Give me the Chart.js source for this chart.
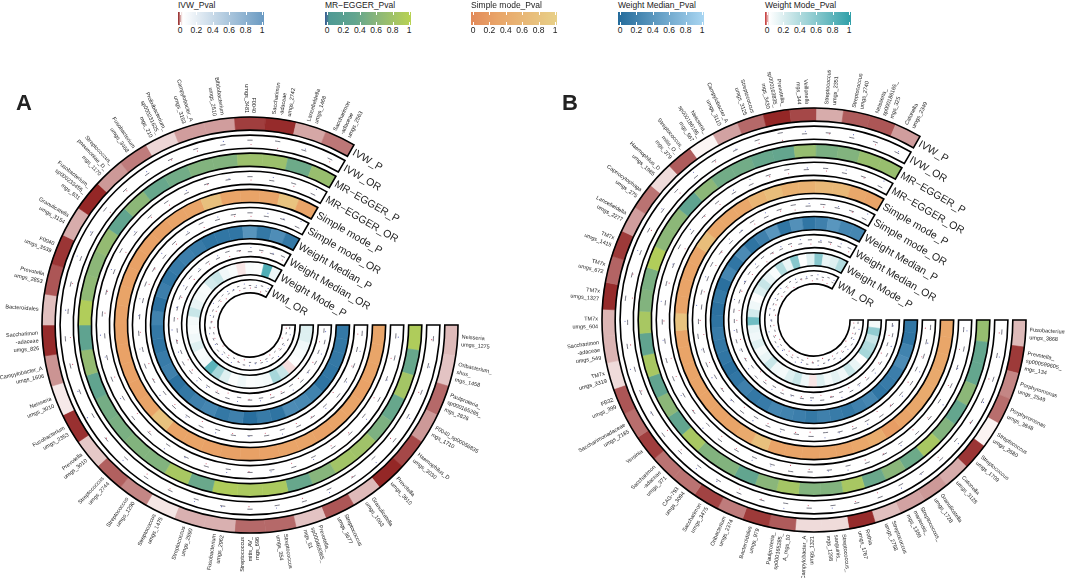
<!DOCTYPE html>
<html><head><meta charset="utf-8">
<style>
html,body{margin:0;padding:0;background:#fff;width:1065px;height:578px;overflow:hidden;font-family:"Liberation Sans",Arial,sans-serif;color:#222}
canvas{position:absolute}
.t{position:absolute;white-space:nowrap;line-height:1}
.bar{position:absolute;top:12px;height:13px;width:86px}
.tk{position:absolute;width:1px;height:3px;background:#fff}
</style>
<script src="https://cdn.jsdelivr.net/npm/chart.js@4"></script>
</head><body>
<canvas id="a" width="540" height="540" style="left:-20px;top:55px"></canvas>
<canvas id="b" width="540" height="540" style="left:544px;top:50px"></canvas>
<div class="t" style="left:16px;top:90px;font:bold 22px 'Liberation Sans'">A</div>
<div class="t" style="left:562px;top:90px;font:bold 22px 'Liberation Sans'">B</div>
<script>
const trackNames=['IVW_P','IVW_OR','MR\u2212EGGER_P','MR\u2212EGGER_OR','Simple mode_P','Simple mode_OR','Weight Median_P','Weight Median_OR','Weight Mode_P','WM_OR'];
const legendTitles=['IVW_Pval','MR\u2212EGGER_Pval','Simple mode_Pval','Weight Median_Pval','Weight Mode_Pval'];
const legendTicks=['0','0.2','0.4','0.6','0.8','1'];

const catsA=['Neisseria|umgs_1275','Oribacterium_|shus_|mgs_1458','Paulproteria_|sp000165285_|mgs_2826','F0040_sp00056835|mgs_1710','Haemophilus_D|umgs_3030','Prevotella|umgs_3610','Granulicatella|umgs_1063','Streptococcus|umgs_3677','Prevotella_|sp000469365_|mgs_51','Streptococcus|umgs_354','Streptococcus|mitis_AV_|mgs_696','Fusobacterium|umgs_2962','Streptococcus|umgs_2990','Streptococcus|umgs_1475','Streptococcus|umgs_1290','Streptococcus|umgs_2744','Prevotella|umgs_3010','Fusobacterium|umgs_2353','Neisseria|umgs_3010','Campylobacter_A|umgs_1606','Saccharimon|-adaceae|umgs_826','Bacteroidales','Prevotella|umgs_2853','F0040|umgs_3539','Granulicatella|umgs_3154','Fusobacterium_|sp000233455_|mgs_831','Streptococcus_|pneumoniae_D_|mgs_1170','Fusobacterium|umgs_3468','Prolixibacterium_|sp000231625_|mgs_210','Campylobacter_A|umgs_3153','Bifidobacterium|umgs_2510','F0040|umgs_3481','Saccharimon|-adaceae|umgs_2742','Lancefieldella|umgs_1468','Saccharimon|-adaceae|umgs_2563'];
const ivwPA=[.033,.035,.016,.026,.009,.002,.033,.012,.035,.016,.016,.031,.031,.042,.022,.014,.036,.004,.043,.025,.003,.034,.012,.005,.03,.002,.026,.02,.039,.027,.027,.007,.003,.029,.019];
const mrPA=[.92,.38,.82,.38,.52,.78,.8,.58,.38,.88,.88,.92,.4,.85,.55,.55,.5,.47,.33,.68,.3,.93,.65,.62,.68,.33,.62,.38,.45,.55,.55,.75,.75,.42,.72];
const simplePA=[.32,.32,.3,.28,.3,.3,.28,.3,.3,.28,.26,.26,.28,.3,.3,.78,.3,.26,.28,.28,.26,.28,.3,.28,.26,.28,.26,.3,.32,.75,.3,.3,.32,.8,.3];
const medianPA=[.12,.12,.12,.1,.08,.22,.28,.3,.08,.15,.03,.2,.12,.25,.2,.12,.06,.2,.15,.08,.12,.22,.06,.18,.1,.14,.18,.15,.08,.1,.1,.38,.12,.32,.12];
const modePA=[.2,.2,.12,.08,.06,.042,.3,.45,.1,.08,.07,.12,.07,.2,.45,.8,.1,.08,.2,.12,.08,.1,.3,.15,.1,.08,.25,.3,.12,.08,.044,.08,.07,.85,.14];
const orIvwA=[1.02,.98,1.03,.97,1.05,.94,1.01,.96,1.04,.97,1.03,.99,.97,1.02,1.04,.96,1.01,.93,.98,1.03,1.06,.97,1.02,.95,.98,1.07,1.02,.97,1.01,1.03,.96,1.05,1.08,.98,1.03];
const orMrA=[.97,1.04,.99,1.06,.95,1.02,1.03,.97,1.05,.98,1.01,.96,1.03,.99,.94,1.02,1.07,.97,1.04,.98,.95,1.03,1.01,.96,1.06,.98,1.02,1.05,.97,1.01,.99,1.04,.96,1.03,.93];
const orSimpleA=[1.05,.96,1.02,.98,1.07,.97,1.01,1.04,.95,1.03,.99,1.02,.96,1.06,.98,1.03,.94,1.01,1.05,.97,1.02,.99,.96,1.04,1.01,.95,1.03,.98,1.06,.97,1.02,1.04,.96,.99,.92];
const orMedianA=[.98,1.06,.96,1.03,.99,1.05,.94,1.02,1.04,.97,1.01,.95,1.06,1.02,.98,.96,1.03,1.07,.97,1.01,.94,1.04,.99,1.02,.96,1.05,.98,1.03,.97,1.06,1.01,.95,1.02,.99,1.04];
const orModeA=[1.04,.95,1.07,.98,1.02,.93,1.05,.97,1.03,.99,.96,1.06,1.01,.94,1.03,.97,1.08,.98,1.02,.95,1.05,1.01,.96,1.04,.93,1.02,1.06,.97,.99,1.05,.95,1.03,.98,1.07,.96];

const catsB=['Fusobacterium|umgs_3868','Prevotella_|sp000599605_|mgs_134','Porphyromonas|umgs_2549','Porphyromonas|umgs_3848','Streptococcus|umgs_2680','Streptococcus|umgs_1709','Catonella|umgs_3128','Granulicatella|umgs_1728','Streptococcus_|mariensis_|mgs_1369','Streptococcus|umgs_2758','Rothia|umgs_1767','Streptococcus_|sanguinis_|mgs_1298','Campylobacter_A|umgs_1321','Paulproteria_|sp000165285_|A_mgs_10','Bacteroidales|umgs_979','Oribacterium|umgs_2374','Saccharimon|umgs_3475','CAG-793|umgs_3094','Saccharimon|-adaceae|umgs_371','Yersinia','Saccharimonadaceae|umgs_2185','FB32|umgs_399','TM7x|umgs_3319','Saccharimon|-adaceae|umgs_549','TM7x|umgs_604','TM7x|umgs_1327','TM7x|umgs_672','TM7x|umgs_1415','Lancefieldella|umgs_2277','Capnocytophaga|umgs_275','Haemophilus_D|umgs_1985','Streptococcus_|mitis_O_|mgs_379','Neisseria_|sp000186165_|mgs_567','Campylobacter_A|umgs_3110','Streptococcus|umgs_3125','Prevotella_|sp000163835_|mgs_3430','Veillonella|mgs_344','Streptococcus|umgs_2351','Streptococcus|umgs_2740','Neisseria_|sp000186165_|mgs_325','Catonella|umgs_2349'];
const ivwPB=[.033,.006,.022,.017,.045,.005,.03,.026,.028,.034,.003,.04,.04,.013,.006,.02,.008,.018,.018,.007,.017,.012,.04,.032,.032,.003,.015,.006,.027,.018,.04,.013,.047,.028,.016,.002,.009,.03,.013,.012,.027];
const mrPB=[.7,.36,.36,.62,.36,.55,.85,.42,.6,.4,.85,.55,.55,.82,.6,.35,.55,.55,.85,.35,.62,.33,.85,.33,.85,.55,.5,.93,.62,.62,.3,.62,.45,.45,.38,.36,.7,.5,.55,.72,.72];
const simplePB=[.35,.33,.35,.38,.4,.35,.3,.22,.42,.35,.3,.3,.3,.3,.3,.75,.4,.3,.3,.3,.3,.3,.3,.3,.8,.3,.3,.3,.32,.7,.35,.35,.35,.55,.7,.5,.5,.62,.62,.35,.3];
const medianPB=[.1,.08,.22,.3,.18,.15,.1,.25,.2,.12,.15,.2,.12,.18,.22,.25,.15,.12,.2,.1,.05,.1,.12,.15,.08,.06,.12,.05,.25,.1,.3,.08,.2,.4,.1,.35,.1,.2,.4,.25,.25];
const modePB=[.1,.55,.3,.4,.45,.05,.15,.3,.12,.18,.1,.2,.044,.12,.3,.2,.1,.12,.3,.15,.1,.2,.12,.15,.7,.25,.12,.06,.2,.3,.15,.08,.4,.15,.6,.05,.2,.6,.15,.2,.4];
const orIvwB=[1.03,.97,1.05,.98,1.01,.95,1.04,.99,.96,1.06,1.02,.97,1.03,.94,1.01,1.05,.98,.96,1.03,1.07,.99,1.02,.95,1.04,.97,1.08,1.01,.96,1.03,.98,1.05,.94,1.02,.99,1.04,1.09,.97,1.01,.96,1.03,.98];
const orMrB=[.96,1.05,.99,1.03,.94,1.02,1.06,.97,1.01,1.04,.95,.99,1.03,1.07,.98,.96,1.02,1.05,.93,1.01,.97,1.04,1.06,.98,1.02,.95,1.03,.99,1.07,.96,1.01,1.04,.97,.94,1.02,1.05,.98,1.03,.96,1.01,.92];
const orSimpleB=[1.06,.98,1.02,.95,1.04,.97,1.01,1.07,.96,1.03,.99,.94,1.05,1.02,.97,1.03,.95,1.06,.99,1.01,.96,1.04,.98,1.07,1.02,.94,1.03,.97,1.05,1.01,.96,.99,1.04,.95,1.02,1.06,.97,1.03,.98,1.01,.93];
const orMedianB=[.99,1.04,.95,1.07,1.02,.96,1.03,.98,1.05,.94,1.01,1.06,.97,1.02,.99,1.04,.96,1.03,1.08,.95,1.01,.98,1.05,.97,1.03,1.06,.94,1.02,.99,1.04,.96,1.07,1.01,.97,1.03,.95,1.05,.98,1.02,.96,1.04];
const orModeB=[1.05,.94,1.03,.97,1.08,.96,1.02,.93,1.04,.99,1.06,.95,1.01,1.07,.97,.94,1.03,1.05,.98,.96,1.06,1.02,.93,1.04,.99,1.07,.95,1.03,.97,1.05,.94,1.02,1.08,.96,1.01,.98,1.06,.95,1.03,1.07,.97];

const paletteIvw=[[0,'#8f1d1d'],[.045,'#fbf3f2'],[.06,'#ffffff'],[1,'#6a9ac2']];
const paletteMr=[[0,'#3c5a94'],[.05,'#4f9a94'],[.35,'#62a58f'],[.6,'#8ab67a'],[.85,'#a8c762'],[1,'#b8d253']];
const paletteSimple=[[0,'#e28a5a'],[.3,'#e9a468'],[1,'#e8d088']];
const paletteMedian=[[0,'#246b9b'],[1,'#a9d6f2']];
const paletteMode=[[0,'#c22f2f'],[.05,'#ffffff'],[1,'#2f9fa8']];
const palettes=[paletteIvw,paletteMr,paletteSimple,paletteMedian,paletteMode];

function hex(c){return [1,3,5].map(i=>parseInt(c.substr(i,2),16));}
function colorOf(pal,v){
  for(let i=1;i<pal.length;i++){
    if(v<=pal[i][0]){
      const [a,ca]=pal[i-1],[b,cb]=pal[i],t=(v-a)/(b-a),A=hex(ca),B=hex(cb);
      return 'rgb('+A.map((x,k)=>Math.round(x+(B[k]-x)*t)).join(',')+')';
    }
  }
  return pal[pal.length-1][1];
}

const circos={id:'circos',afterDatasetsDraw(chart,_,o){
  const ctx=chart.ctx;
  const tracks=chart.data.datasets.map((d,i)=>({d,m:chart.getDatasetMeta(i)})).filter(t=>!t.d.spacer);
  ctx.save();
  tracks.forEach((t,ti)=>{
    const cells=t.m.data,first=cells[0],last=cells[cells.length-1];
    const cx=first.x,cy=first.y,ri=first.innerRadius,ro=first.outerRadius,rm=(ri+ro)/2;
    if(t.d.orValues){
      t.d.orValues.forEach((v,k)=>{
        const c=cells[k],a=(c.startAngle+c.endAngle)/2,cellA=c.endAngle-c.startAngle;
        const r=rm+(v-1)*30,half=Math.min(2.6,cellA*rm*.2)/rm;
        ctx.beginPath();ctx.arc(cx,cy,r,a-half,a+half);
        ctx.strokeStyle='rgba(60,60,75,.85)';ctx.lineWidth=.8;ctx.stroke();
        const rd=rm+(1-v)*55;
        ctx.beginPath();ctx.arc(cx+rd*Math.cos(a+half*.4),cy+rd*Math.sin(a+half*.4),.55,0,7);
        ctx.fillStyle=v>1?'rgba(190,40,70,.8)':'rgba(60,70,170,.8)';ctx.fill();
      });
    }
    ctx.beginPath();
    ctx.arc(cx,cy,ro,first.startAngle,last.endAngle);
    ctx.arc(cx,cy,ri,last.endAngle,first.startAngle,true);
    ctx.closePath();
    ctx.strokeStyle='#000';ctx.lineWidth=1.6;ctx.stroke();
    // track name, laid along the tangent at the end of the track
    const e=last.endAngle;
    ctx.save();
    ctx.translate(cx+rm*Math.cos(e),cy+rm*Math.sin(e));
    ctx.rotate(e+Math.PI/2);
    ctx.font='10.5px "Liberation Sans"';ctx.fillStyle='#222';
    ctx.textAlign='left';ctx.textBaseline='middle';
    ctx.fillText(t.d.label,3,0);
    ctx.restore();
  });
  // category labels, radial
  const outer=tracks[0].m.data;
  chart.data.labels.forEach((lab,k)=>{
    const c=outer[k],a=(c.startAngle+c.endAngle)/2,R=c.outerRadius+4;
    const n=((a%(2*Math.PI))+2*Math.PI)%(2*Math.PI),right=n<Math.PI/2||n>3*Math.PI/2;
    const lines=lab.split('|');
    ctx.save();
    ctx.translate(c.x,c.y);
    ctx.rotate(right?a:a+Math.PI);
    ctx.font='5.5px "Liberation Sans"';ctx.fillStyle='#222';
    ctx.textAlign=right?'left':'right';ctx.textBaseline='middle';
    lines.forEach((s,i)=>ctx.fillText(s,right?R:-R,(i-(lines.length-1)/2)*7.8));
    ctx.restore();
  });
  ctx.restore();
}};

function build(id,cats,radius,cut,pvals,ors){
  const datasets=[];
  const unit=cats.map(()=>1);
  trackNames.forEach((name,i)=>{
    const g=Math.floor(i/2);
    if(i%2===0){
      const bg=pvals[g].map(v=>colorOf(palettes[g],v));
      datasets.push({label:name,data:unit,backgroundColor:bg,borderColor:bg,borderWidth:.6,weight:13.2,pValues:pvals[g]});
    }else{
      datasets.push({label:name,data:unit,backgroundColor:'#fff',borderColor:'#fff',borderWidth:0,weight:13.2,orValues:ors[g]});
    }
    if(i<trackNames.length-1)datasets.push({label:'',spacer:true,data:[1],backgroundColor:'rgba(0,0,0,0)',borderWidth:0,weight:4.9});
  });
  new Chart(document.getElementById(id),{type:'doughnut',plugins:[circos],
    data:{labels:cats,datasets},
    options:{responsive:false,animation:false,rotation:90,circumference:300,radius,cutout:cut,
      layout:{padding:0},plugins:{legend:{display:false},tooltip:{enabled:false}}}});
}
build('a',catsA,208,'15.4%',[ivwPA,mrPA,simplePA,medianPA,modePA],[orIvwA,orMrA,orSimpleA,orMedianA,orModeA]);
build('b',catsB,212,'17%',[ivwPB,mrPB,simplePB,medianPB,modePB],[orIvwB,orMrB,orSimpleB,orMedianB,orModeB]);

// colour-bar legends
const legendLeft=[178,325,471,618,765];
legendTitles.forEach((title,i)=>{
  const x=legendLeft[i],pal=palettes[i],bar=document.createElement('div');
  bar.className='bar';bar.style.left=x+'px';
  bar.style.background='linear-gradient(90deg,'+pal.map(p=>p[1]+' '+(p[0]*100)+'%').join(',')+')';
  document.body.appendChild(bar);
  const tt=document.createElement('div');tt.className='t';tt.textContent=title;
  tt.style.cssText='left:'+x+'px;top:1px;font-size:8.5px';document.body.appendChild(tt);
  legendTicks.forEach((s,k)=>{
    const px=2+k*16.4;
    [0,10].forEach(top=>{const m=document.createElement('div');m.className='tk';m.style.cssText='left:'+px+'px;top:'+top+'px';bar.appendChild(m);});
    const l=document.createElement('div');l.className='t';l.textContent=s;
    l.style.cssText='left:'+(x+px-10)+'px;width:20px;text-align:center;top:26px;font-size:8.5px';
    document.body.appendChild(l);
  });
});
</script>
</body></html>
